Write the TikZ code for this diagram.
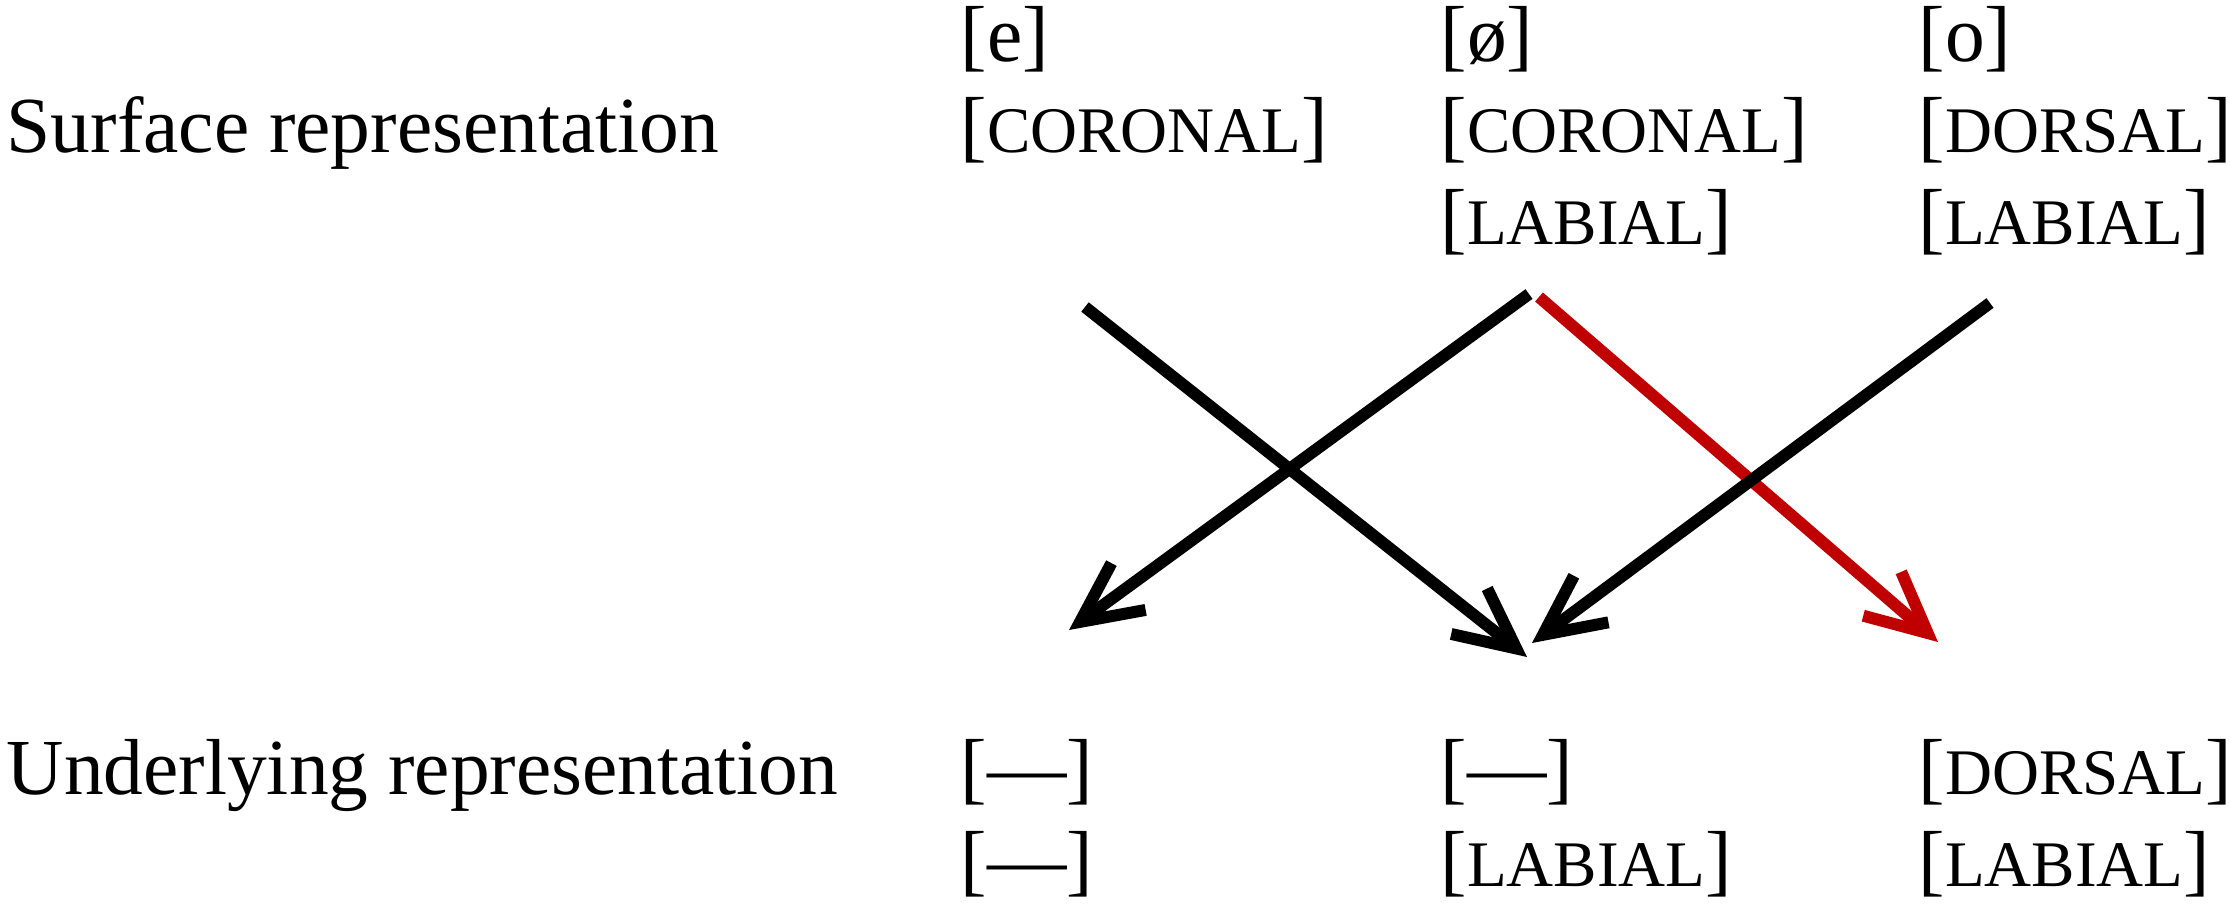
\documentclass[tikz,border=0pt]{standalone}
\usepackage{fontspec}
\setmainfont{Liberation Serif}
\usetikzlibrary{arrows.meta}
\definecolor{ArrRed}{RGB}{192,0,0}
\newcommand{\feat}[1]{{\fontsize{18.5pt}{18.5pt}\selectfont #1}}
\tikzset{
  txt/.style={anchor=base west,inner sep=0pt,font=\fontsize{22.6pt}{22.6pt}\selectfont},
  arr/.style={-{Straight Barb[length=6mm,width=5.8mm]},line width=3.4pt,black},
  rarr/.style={arr,ArrRed},
}
\begin{document}
\begin{tikzpicture}
    \useasboundingbox (0,0) rectangle (22.30,9.08);
    %% Surface representation
    \node[txt] (srf)    at (0.06,7.56)  {Surface representation};
    \node[txt] (eseg)   at (9.60,8.47)  {[e]};
    \node[txt] (ecor)   at (9.60,7.56)  {[\feat{CORONAL}]};
    \node[txt] (oeseg)  at (14.40,8.47) {[ø]};
    \node[txt] (oecor)  at (14.40,7.56) {[\feat{CORONAL}]};
    \node[txt] (oelab)  at (14.40,6.64) {[\feat{LABIAL}]};
    \node[txt] (oseg)   at (19.18,8.47) {[o]};
    \node[txt] (odor)   at (19.18,7.56) {[\feat{DORSAL}]};
    \node[txt] (olab)   at (19.18,6.64) {[\feat{LABIAL}]};
    %% Underlying representation
    \node[txt] (und)    at (0.06,1.14)  {Underlying representation};
    \node[txt] (eund)   at (9.60,1.14)  {[—]};
    \node[txt] (eund2)  at (9.60,0.22)  {[—]};
    \node[txt] (oeund)  at (14.40,1.14) {[—]};
    \node[txt] (oeund2) at (14.40,0.22) {[\feat{LABIAL}]};
    \node[txt] (ound)   at (19.18,1.14) {[\feat{DORSAL}]};
    \node[txt] (ound2)  at (19.18,0.22) {[\feat{LABIAL}]};
    %% Arrow ends
    \coordinate (eout)   at (10.85,6.01);
    \coordinate (oeoutl) at (15.29,6.14);
    \coordinate (oeoutr) at (15.39,6.11);
    \coordinate (oout)   at (19.90,6.05);
    \coordinate (ein)    at (10.69,2.78);
    \coordinate (oeinA)  at (15.27,2.51);
    \coordinate (oeinB)  at (15.32,2.65);
    \coordinate (oin)    at (19.38,2.66);
    %% Arrows
    \draw[rarr] (oeoutr)--(oin);
    \draw[arr] (eout)--(oeinA);
    \draw[arr] (oeoutl)--(ein);
    \draw[arr] (oout)--(oeinB);
  \end{tikzpicture}
\end{document}
